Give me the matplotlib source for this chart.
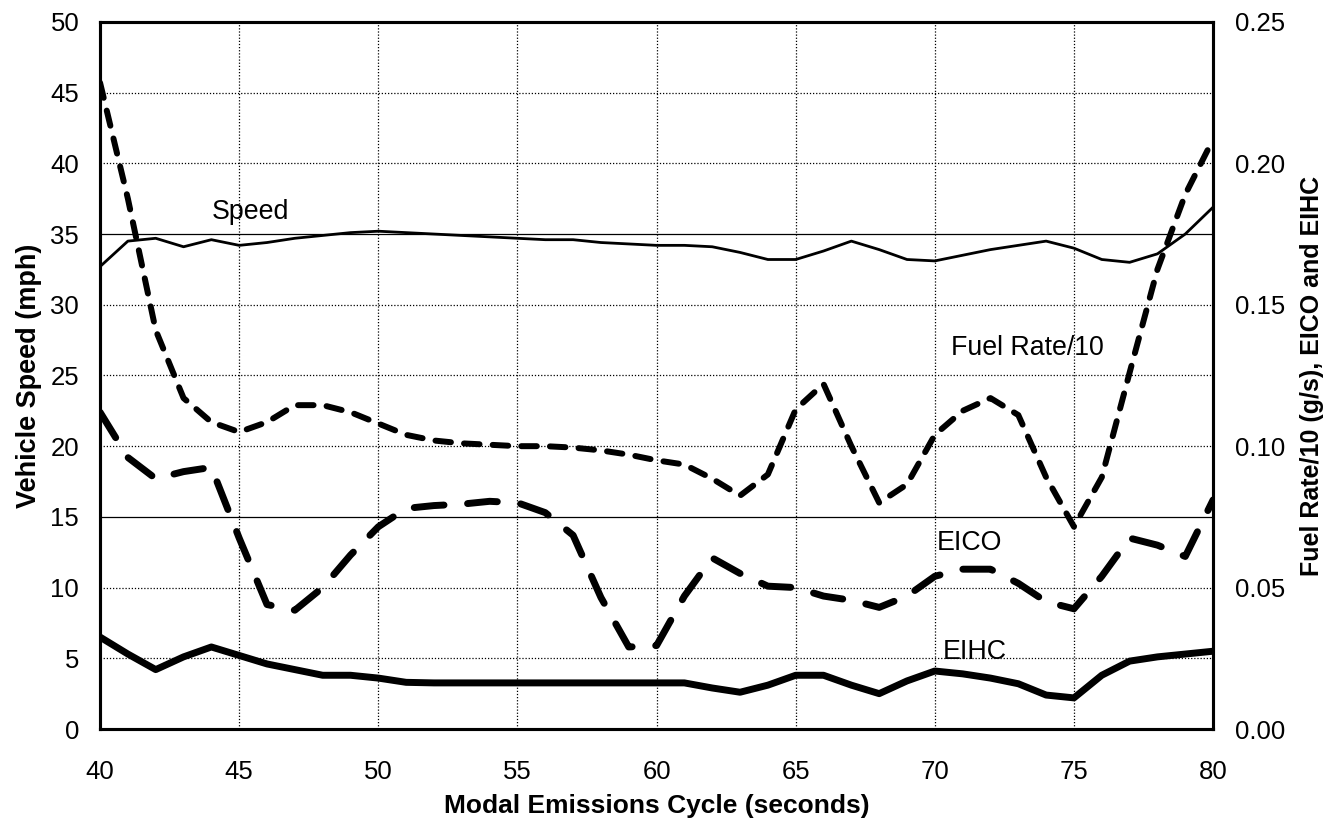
import matplotlib
matplotlib.use("Agg")
import matplotlib.pyplot as plt
import numpy as np

plt.rcParams['font.family'] = ['Liberation Sans', 'DejaVu Sans']

# Time axis (seconds of the modal emissions cycle)
t = np.arange(40, 81)

# Vehicle speed (mph), left axis
speed = [32.7, 34.5, 34.7, 34.1, 34.6, 34.2, 34.4, 34.7, 34.9, 35.1,
         35.2, 35.1, 35.0, 34.9, 34.8, 34.7, 34.6, 34.6, 34.4, 34.3,
         34.2, 34.2, 34.1, 33.7, 33.2, 33.2, 33.8, 34.5, 33.9, 33.2,
         33.1, 33.5, 33.9, 34.2, 34.5, 34.0, 33.2, 33.0, 33.6, 35.0,
         36.9]

# Fuel rate / 10 (g/s), right axis
fuel_rate = [0.2285, 0.1875, 0.1410, 0.1170, 0.1085, 0.1050, 0.1085, 0.1145,
             0.1145, 0.1120, 0.1080, 0.1040, 0.1020, 0.1010, 0.1005, 0.1000,
             0.1000, 0.0995, 0.0985, 0.0970, 0.0950, 0.0935, 0.0885, 0.0825,
             0.0900, 0.1130, 0.1220, 0.1000, 0.0800, 0.0865, 0.1040, 0.1125,
             0.1170, 0.1110, 0.0890, 0.0715, 0.0890, 0.1260, 0.1625, 0.1890,
             0.2085]

# EICO, right axis
eico = [0.1120, 0.0960, 0.0885, 0.0910, 0.0925, 0.0675, 0.0440, 0.0420,
        0.0500, 0.0615, 0.0715, 0.0780, 0.0790, 0.0795, 0.0805, 0.0800,
        0.0765, 0.0685, 0.0465, 0.0290, 0.0295, 0.0470, 0.0605, 0.0550,
        0.0505, 0.0500, 0.0470, 0.0455, 0.0430, 0.0470, 0.0540, 0.0565,
        0.0565, 0.0515, 0.0450, 0.0425, 0.0540, 0.0675, 0.0650, 0.0610,
        0.0810]

# EIHC, right axis
eihc = [0.0325, 0.0265, 0.0210, 0.0255, 0.0290, 0.0260, 0.0230, 0.0210,
        0.0190, 0.0190, 0.0180, 0.0165, 0.0163, 0.0163, 0.0163, 0.0163,
        0.0163, 0.0163, 0.0163, 0.0163, 0.0163, 0.0163, 0.0145, 0.0130,
        0.0155, 0.0190, 0.0190, 0.0155, 0.0125, 0.0170, 0.0205, 0.0195,
        0.0180, 0.0160, 0.0120, 0.0110, 0.0190, 0.0240, 0.0255, 0.0265,
        0.0275]

left_ticks = np.arange(0, 51, 5)
right_ticks = [0.00, 0.05, 0.10, 0.15, 0.20, 0.25]
x_ticks = np.arange(40, 81, 5)

fig = plt.figure(figsize=(13.36, 8.27), dpi=100)
ax = fig.add_axes([0.0749, 0.1185, 0.8331, 0.855])
ax2 = ax.twinx()

ax.set_xlim(40, 80)
ax.set_ylim(0, 50)
ax2.set_ylim(0, 0.25)

# Grid: dotted, with the 15 and 35 lines drawn solid
for xv in x_ticks[1:-1]:
    ax.axvline(xv, color='black', lw=0.9, ls=(0, (1, 1.5)), zorder=1)
for yv in left_ticks[1:-1]:
    if yv in (15, 35):
        ax.axhline(yv, color='black', lw=0.9, ls='-', zorder=1)
    else:
        ax.axhline(yv, color='black', lw=0.9, ls=(0, (1, 1.5)), zorder=1)

ax.plot(t, speed, color='black', lw=2.0, solid_joinstyle='round', zorder=3)
ax2.plot(t, fuel_rate, color='black', lw=4.3, ls=(0, (2.6, 2.2)),
         dash_capstyle='round', dash_joinstyle='round', zorder=3)
ax2.plot(t, eico, color='black', lw=5.0, ls=(0, (4.3, 3.4)),
         dash_capstyle='round', dash_joinstyle='round', zorder=3)
ax2.plot(t, eihc, color='black', lw=5.0, solid_capstyle='round',
         solid_joinstyle='round', zorder=3)

ax.text(45.39, 36.05, 'Speed', fontsize=19.3, ha='center', va='baseline')
ax.text(70.58, 26.45, 'Fuel Rate/10', fontsize=19.3, ha='left', va='baseline')
ax.text(70.08, 12.66, 'EICO', fontsize=19.3, ha='left', va='baseline')
ax.text(70.29, 4.95, 'EIHC', fontsize=19.3, ha='left', va='baseline')

ax.set_xticks(x_ticks)
ax.set_yticks(left_ticks)
ax2.set_yticks(right_ticks)
ax2.set_yticklabels([f'{v:.2f}' for v in right_ticks])

ax.tick_params(axis='x', labelsize=18.5, length=0, pad=22)
ax.tick_params(axis='y', labelsize=18.5, length=0, pad=15)
ax2.tick_params(axis='y', labelsize=18.5, length=0, pad=16)
for a in (ax, ax2):
    for s in a.spines.values():
        s.set_linewidth(2.2)

ax.set_xlabel('Modal Emissions Cycle (seconds)', fontsize=19,
              fontweight='bold')
ax.xaxis.set_label_coords(0.5, -0.092)

ax.set_ylabel('Vehicle Speed (mph)', fontsize=19.5, fontweight='bold')
ax.yaxis.label.set_verticalalignment('center')
ax.yaxis.set_label_coords(-0.064, 0.5)

ax2.set_ylabel('Fuel Rate/10 (g/s), EICO and EIHC', fontsize=18,
               fontweight='bold')
ax2.yaxis.label.set_verticalalignment('center')
ax2.yaxis.set_label_coords(1.089, 0.5)

fig.savefig('out.png', dpi=100)
